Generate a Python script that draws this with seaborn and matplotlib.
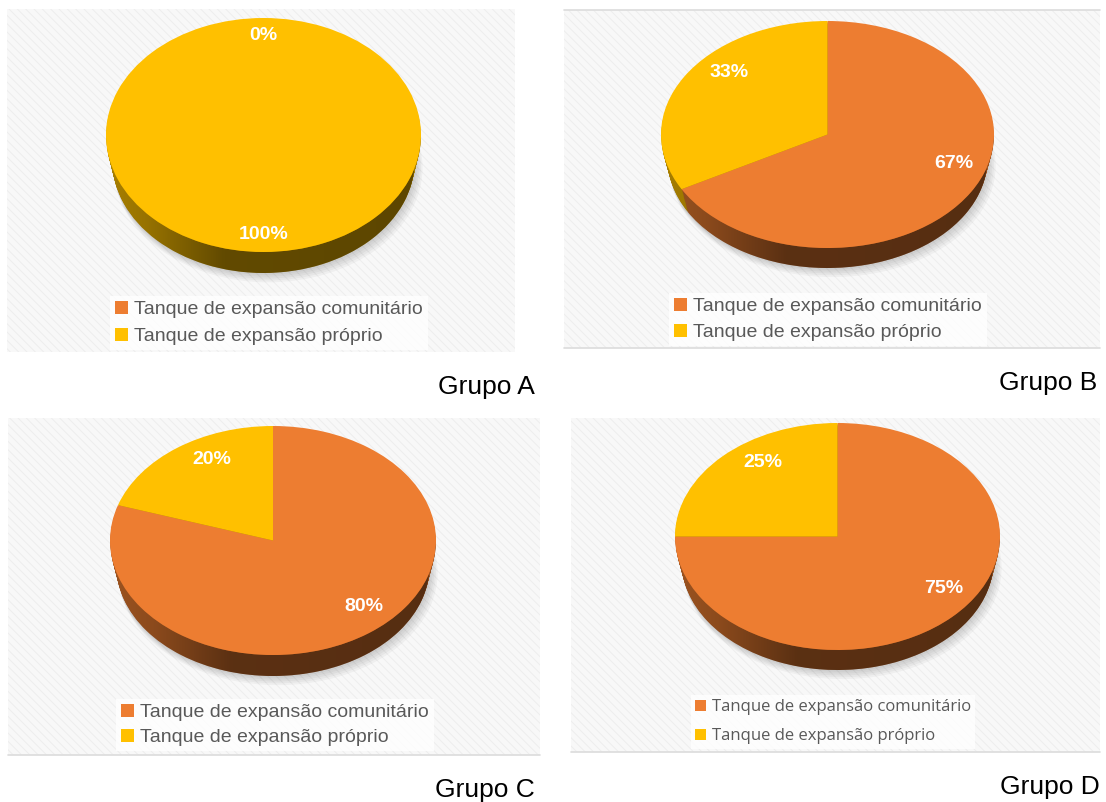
import numpy as np
import matplotlib
matplotlib.use('Agg')
import matplotlib.pyplot as plt
import seaborn as sns
from matplotlib.patches import Rectangle, PathPatch
from matplotlib.path import Path
from matplotlib.lines import Line2D
from matplotlib.colors import to_rgb

sns.set_theme(style='white')
plt.rcParams['font.family'] = ['Liberation Sans', 'DejaVu Sans']
plt.rcParams['hatch.linewidth'] = 0.6
plt.rcParams['hatch.color'] = '#ececec'

# ---------------- data ----------------
categories = ['Tanque de expansão comunitário', 'Tanque de expansão próprio']
grupos = ['Grupo A', 'Grupo B', 'Grupo C', 'Grupo D']
valores_A = [0, 100]
valores_B = [67, 33]
valores_C = [80, 20]
valores_D = [75, 25]
cores = ['#ED7D31', '#FFC000']

W, H = 1106, 802
fig = plt.figure(figsize=(W / 100, H / 100), dpi=100)
fig.patch.set_facecolor('white')

# layout (pixels): background box, pie (cx, cy, rx, ry, depth), legend anchor, label anchor
panels = [
    dict(vals=valores_A, name=grupos[0], bg=(7, 9, 515, 352), pie=(263.5, 135, 157.5, 117, 21),
         leg=(110, 296), lfont=['Liberation Sans'], lsize=14, lsp=0.5, lab=(535, 387), lines=()),
    dict(vals=valores_B, name=grupos[1], bg=(564, 10, 1100, 348), pie=(827.5, 134.5, 166.5, 113.5, 20),
         leg=(669, 293), lfont=['Liberation Sans'], lsize=14, lsp=0.45, lab=(1097, 383), lines=(10, 348)),
    dict(vals=valores_C, name=grupos[2], bg=(8, 418, 540, 755), pie=(273, 540.5, 163, 114.5, 21),
         leg=(116, 699), lfont=['Liberation Sans'], lsize=14, lsp=0.4, lab=(535, 790), lines=(755,)),
    dict(vals=valores_D, name=grupos[3], bg=(571, 418, 1100, 752), pie=(837.5, 536.5, 162.5, 113.5, 20),
         leg=(691, 695), lfont=['Open Sans'], lsize=12, lsp=0.8, lab=(1100, 787), lines=(752,)),
]


def fx(x):
    return x / W


def fy(y):
    return 1 - y / H


for p in panels:
    x0, y0, x1, y1 = p['bg']
    # hatched light background
    fig.add_artist(Rectangle((fx(x0), fy(y1)), (x1 - x0) / W, (y1 - y0) / H,
                             transform=fig.transFigure, facecolor='#f8f8f8',
                             edgecolor='#ececec', hatch='\\\\\\\\', linewidth=0, zorder=0))
    for ly in p['lines']:
        fig.add_artist(Line2D([fx(x0), fx(x1)], [fy(ly), fy(ly)], transform=fig.transFigure,
                              color='#dcdcdc', linewidth=1.2, zorder=0.5))

    ax = fig.add_axes([fx(x0), fy(y1), (x1 - x0) / W, (y1 - y0) / H])
    ax.set_facecolor('none')
    ax.patch.set_alpha(0)
    cx, cy, rx, ry, dpx = p['pie']
    dd = dpx / ry
    shrink = 0.04
    rb = 1 - shrink

    # soft drop shadow
    for j in range(1, 6):
        ax.pie(p['vals'], colors=['#000000', '#000000'], startangle=90, counterclock=False,
               radius=rb + 0.004 * j, center=(0.006 * j, rb - 1 - dd - 0.012 * j),
               wedgeprops=dict(linewidth=0, zorder=0.8, alpha=0.035))

    side_cols = [tuple(c * 0.66 for c in to_rgb(col)) for col in cores]
    n = int(dpx)
    for k in range(n, 0, -1):
        rk = 1 - shrink * k / n
        ax.pie(p['vals'], colors=side_cols, startangle=90, counterclock=False, radius=rk,
               center=(0, rk - 1 - dd * k / n), wedgeprops=dict(linewidth=0, zorder=1))

    # shading gradient on the side wall
    theta = np.linspace(np.pi, 2 * np.pi, 200)
    top = np.column_stack([np.cos(theta), np.sin(theta)])
    bot = np.column_stack([rb * np.cos(theta[::-1]), rb * np.sin(theta[::-1]) + rb - 1 - dd])
    verts = np.vstack([top, bot, top[:1]])
    codes = [Path.MOVETO] + [Path.LINETO] * (len(verts) - 2) + [Path.CLOSEPOLY]
    clip = PathPatch(Path(verts, codes), transform=ax.transData, facecolor='none', edgecolor='none')
    ax.add_patch(clip)
    xs = np.linspace(-1, 1, 256)
    alpha = np.interp(xs, [-1, -0.75, -0.25, 1], [0.0, 0.1, 0.42, 0.45])
    img = np.zeros((1, 256, 4))
    img[..., 3] = alpha
    im = ax.imshow(img, extent=(-1, 1, -1 - dd, 0), aspect='auto', zorder=1.5,
                   interpolation='bilinear')
    im.set_clip_path(clip)

    wedges, texts, autotexts = ax.pie(
        p['vals'], colors=cores, startangle=90, counterclock=False,
        autopct=lambda v: f'{v:.0f}%', pctdistance=0.85,
        wedgeprops=dict(linewidth=0, zorder=2),
        textprops=dict(color='white', fontsize=14, fontweight='bold', zorder=5))

    # label placement like the 3D original: mid-angle pulled towards the top
    for w, t in zip(wedges, autotexts):
        mid = (w.theta1 + w.theta2) / 2
        mid = np.deg2rad(mid + 14 * np.cos(np.deg2rad(mid)))
        r = 0.85 if abs(np.cos(mid)) < 1e-6 else 0.8
        t.set_position((r * np.cos(mid), r * np.sin(mid)))

    ax.set_aspect('auto')
    ax.set_xlim(-(cx - x0) / rx, (x1 - cx) / rx)
    ax.set_ylim(-(y1 - cy) / ry, (cy - y0) / ry)
    ax.axis('off')

    leg = ax.legend(wedges, categories, loc='upper left',
                    bbox_to_anchor=(fx(p['leg'][0]), fy(p['leg'][1])),
                    bbox_transform=fig.transFigure, frameon=True, fancybox=False,
                    facecolor='white', framealpha=0.8, edgecolor='none',
                    prop=dict(family=p['lfont'] + ['DejaVu Sans'], size=p['lsize']),
                    labelcolor='#595959', handlelength=0.65, handleheight=0.65,
                    handletextpad=0.35, labelspacing=p['lsp'], borderpad=0.25, borderaxespad=0)

    fig.text(fx(p['lab'][0]), fy(p['lab'][1]), p['name'], ha='right', va='center',
             fontsize=19, color='black')

fig.savefig('out.png', dpi=100, facecolor='white')
